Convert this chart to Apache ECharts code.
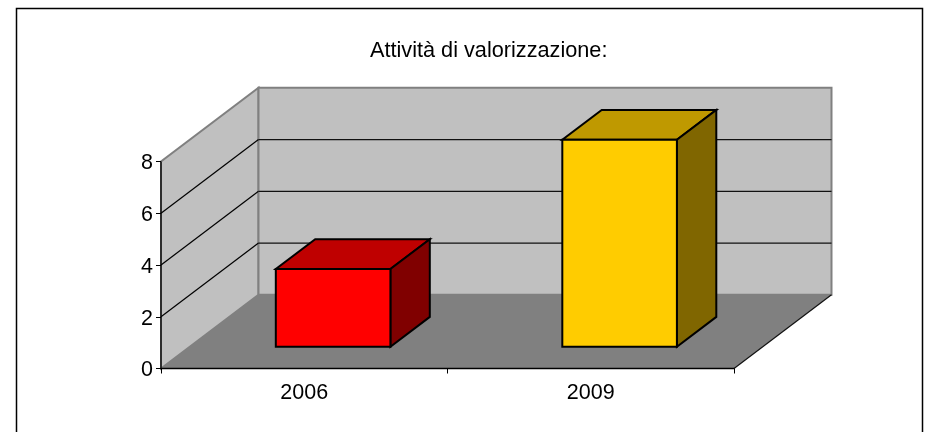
<!DOCTYPE html>
<html><head><meta charset="utf-8">
<style>html,body{margin:0;padding:0;background:#fff}#c{width:940px;height:432px}</style>
<script src="https://cdn.jsdelivr.net/npm/echarts@6/dist/echarts.min.js"></script>
</head><body><div id="c"></div>
<script>
const titleText = 'Attività di valorizzazione:';
const categories = ['2006', '2009'];
const values = [3, 8];
const frontColors = ['#ff0000', '#ffcc00'];
const topColors = ['#bf0000', '#bf9900'];
const sideColors = ['#800000', '#806600'];
const gridValues = [0, 2, 4, 6];
const yMax = 8, yStep = 2;

// oblique projection of the chart depth
const DX = 97.5, DY = -73.7;
const barDepthStart = 0.296, barDepthEnd = 0.70, barWidthShare = 0.4;

const chart = echarts.init(document.getElementById('c'), null, {renderer: 'canvas'});
const font = 'Liberation Sans';

function poly(points, fill, stroke, lw) {
  return {type: 'polygon', shape: {points},
    style: {fill: fill, stroke: stroke || 'none', lineWidth: lw || 0, lineJoin: 'miter'}};
}
function line(a, b, stroke, lw) {
  return {type: 'line', shape: {x1: a[0], y1: a[1], x2: b[0], y2: b[1]},
    style: {stroke: stroke, lineWidth: lw}};
}
const off = (p, f) => [p[0] + DX * f, p[1] + DY * f];

function renderWalls(params, api) {
  const cw = api.size([1, 0])[0];
  const c0 = api.coord([0, 0]), c0t = api.coord([0, yMax]);
  const bl = [c0[0] - cw / 2, c0[1]], br = [c0[0] + cw * 1.5, c0[1]], tl = [c0[0] - cw / 2, c0t[1]];
  const blB = off(bl, 1), brB = off(br, 1), tlB = off(tl, 1);
  const trB = [brB[0], tlB[1]];
  const kids = [
    poly([bl, tl, tlB, blB], '#c0c0c0', '#808080', 2),
    poly([blB, tlB, trB, brB], '#c0c0c0', '#808080', 2),
    poly([bl, br, brB, blB], '#808080'),
    line(br, brB, '#111', 1.2)
  ];
  gridValues.forEach(function (v) {
    if (v === 0) return;
    const p = api.coord([0, v]);
    const a = [bl[0], p[1]], b = off(a, 1), c = [brB[0], b[1]];
    kids.push(line(a, b, '#000', 1.2), line(b, c, '#111', 1.3));
  });
  kids.push(line(bl, tl, '#000', 1.3));
  return {type: 'group', children: kids};
}

function renderBar(params, api) {
  const i = params.dataIndex;
  const base = api.coord([api.value(0), 0]);
  const top = api.coord([api.value(0), api.value(1)]);
  const w = api.size([1, 0])[0] * barWidthShare;
  const fl = [base[0] - w / 2, base[1]], fr = [base[0] + w / 2, base[1]];
  const tl = [base[0] - w / 2, top[1]], tr = [base[0] + w / 2, top[1]];
  const A = p => off(p, barDepthStart), B = p => off(p, barDepthEnd);
  const s = '#000', lw = 2;
  return {type: 'group', children: [
    poly([A(tl), A(tr), B(tr), B(tl)], topColors[i], s, lw),
    poly([A(fr), A(tr), B(tr), B(fr)], sideColors[i], s, lw),
    poly([A(fl), A(fr), A(tr), A(tl)], frontColors[i], s, lw)
  ]};
}

chart.setOption({
  animation: false,
  backgroundColor: '#fff',
  title: {text: titleText, left: 365, top: 35, textAlign: 'left',
    textStyle: {fontFamily: font, fontSize: 21.7, fontWeight: 'normal', color: '#000'}},
  grid: {left: 161, right: 206, top: 161.5, height: 207, containLabel: false},
  xAxis: {type: 'category', data: categories, boundaryGap: true, z: 5,
    axisLine: {show: true, lineStyle: {color: '#000', width: 1.3}},
    axisTick: {show: true, alignWithLabel: false, length: 5, lineStyle: {color: '#000'}},
    axisLabel: {fontFamily: font, fontSize: 21.5, color: '#000', margin: 14},
    splitLine: {show: false}},
  yAxis: {type: 'value', min: 0, max: yMax, interval: yStep, z: 5,
    axisLine: {show: false},
    axisTick: {show: true, length: 5, lineStyle: {color: '#000'}},
    axisLabel: {margin: 8, formatter: '{a|{value}}',
      rich: {a: {fontFamily: font, fontSize: 21.5, color: '#000', padding: [4, 0, 0, 0]}}},
    splitLine: {show: false}},
  graphic: [{type: 'rect', silent: true, z: -10,
    shape: {x: 16.5, y: 8.5, width: 906, height: 440},
    style: {fill: '#fff', stroke: '#000', lineWidth: 1.5}}],
  series: [
    {type: 'custom', z: 1, clip: false, silent: true, renderItem: renderWalls,
      data: [[0, 0]], encode: {x: 0, y: 1}},
    {type: 'custom', z: 3, clip: false, silent: true, renderItem: renderBar,
      data: categories.map((c, i) => [i, values[i]]), encode: {x: 0, y: 1}}
  ]
});
</script></body></html>
